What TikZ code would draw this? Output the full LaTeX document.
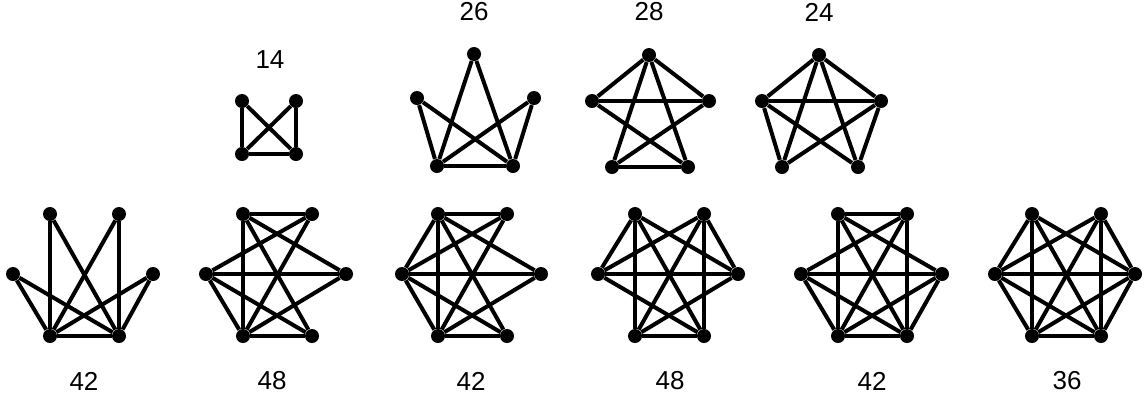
\documentclass[tikz,border=0pt]{standalone}
\usepackage{fontspec}
\setmainfont{Liberation Sans}
\usetikzlibrary{positioning}

\begin{document}
\begin{tikzpicture}[
			x=0.5pt,y=-0.5pt,
			dot/.style={circle,fill=black,inner sep=0pt,minimum size=7pt},
			edge/.style={line width=2pt},
			count/.style={font=\fontsize{13}{15}\selectfont}
			]
			
			\useasboundingbox (0,0) rectangle (1145,398);
			
			% top row
			\foreach \n/\x/\y in {tl/242/101,tr/296/101,bl/242/154,br/296/154}
				\node[dot] (a\n) at (\x,\y) {};
			\foreach \p/\q in {tl/bl,tl/br,tr/bl,tr/br,bl/br}
				\draw[edge] (a\p)--(a\q);
			\node[count] (la) at (270,60) {14};
			
			\foreach \n/\x/\y in {t/474/54,l/417/98,r/534/98,bl/437/166,br/513/166}
				\node[dot] (b\n) at (\x,\y) {};
			\foreach \p/\q in {t/bl,t/br,l/bl,l/br,r/bl,r/br,bl/br}
				\draw[edge] (b\p)--(b\q);
			\node[count] (lb) at (474,12) {26};
			
			\foreach \n/\x/\y in {t/649/55,l/592/101,r/709/101,bl/612/167,br/688/167}
				\node[dot] (c\n) at (\x,\y) {};
			\foreach \p/\q in {t/l,t/r,t/bl,t/br,l/r,l/br,r/bl,bl/br}
				\draw[edge] (c\p)--(c\q);
			\node[count] (lc) at (649,12) {28};
			
			\foreach \n/\x/\y in {t/819/55,l/762/101,r/881/101,bl/782/167,br/858/167}
				\node[dot] (d\n) at (\x,\y) {};
			\foreach \p/\q in {t/l,t/r,t/bl,t/br,l/r,l/bl,l/br,r/bl,r/br}
				\draw[edge] (d\p)--(d\q);
			\node[count] (ld) at (819,12) {24};
			
			% bottom row
			\foreach \n/\x/\y in {tl/50/214,tr/119/214,l/13/274,r/153/274,bl/50/336,br/119/336}
				\node[dot] (e\n) at (\x,\y) {};
			\foreach \p/\q in {tl/bl,tl/br,tr/bl,tr/br,l/bl,l/br,r/bl,r/br,bl/br}
				\draw[edge] (e\p)--(e\q);
			\node[count] (le) at (84,381) {42};
			
			\foreach \n/\x/\y in {tl/243/214,tr/312/214,l/206/274,r/346/274,bl/243/336,br/312/336}
				\node[dot] (f\n) at (\x,\y) {};
			\foreach \p/\q in {tl/tr,tl/bl,tl/br,tl/r,tr/l,tr/bl,l/r,l/bl,l/br,r/bl,bl/br}
				\draw[edge] (f\p)--(f\q);
			\node[count] (lf) at (272,381) {48};
			
			\foreach \n/\x/\y in {tl/438/214,tr/507/214,l/402/274,r/541/274,bl/438/336,br/507/336}
				\node[dot] (g\n) at (\x,\y) {};
			\foreach \p/\q in {tl/tr,tl/l,tl/bl,tl/br,tl/r,tr/l,tr/bl,l/r,l/bl,l/br,r/bl,bl/br}
				\draw[edge] (g\p)--(g\q);
			\node[count] (lg) at (471,381) {42};
			
			\foreach \n/\x/\y in {tl/635/214,tr/704/214,l/598/274,r/738/274,bl/635/336,br/704/336}
				\node[dot] (h\n) at (\x,\y) {};
			\foreach \p/\q in {tl/l,tl/bl,tl/r,tl/br,tr/l,tr/r,tr/bl,tr/br,l/r,l/br,r/bl,bl/br}
				\draw[edge] (h\p)--(h\q);
			\node[count] (lh) at (670,381) {48};
			
			\foreach \n/\x/\y in {tl/838/214,tr/907/214,l/801/274,r/942/274,bl/838/336,br/907/336}
				\node[dot] (i\n) at (\x,\y) {};
			\foreach \p/\q in {tl/tr,tl/bl,tl/br,tl/r,tr/l,tr/bl,tr/br,l/r,l/bl,l/br,r/bl,r/br,bl/br}
				\draw[edge] (i\p)--(i\q);
			\node[count] (li) at (872,381) {42};
			
			\foreach \n/\x/\y in {tl/1032/214,tr/1101/214,l/995/274,r/1135/274,bl/1032/336,br/1101/336}
				\node[dot] (j\n) at (\x,\y) {};
			\foreach \p/\q in {tl/l,tl/bl,tl/br,tl/r,tr/l,tr/r,tr/bl,tr/br,l/r,l/bl,l/br,r/bl,r/br,bl/br}
				\draw[edge] (j\p)--(j\q);
			\node[count] (lj) at (1067,381) {36};
			
		\end{tikzpicture}
\end{document}
